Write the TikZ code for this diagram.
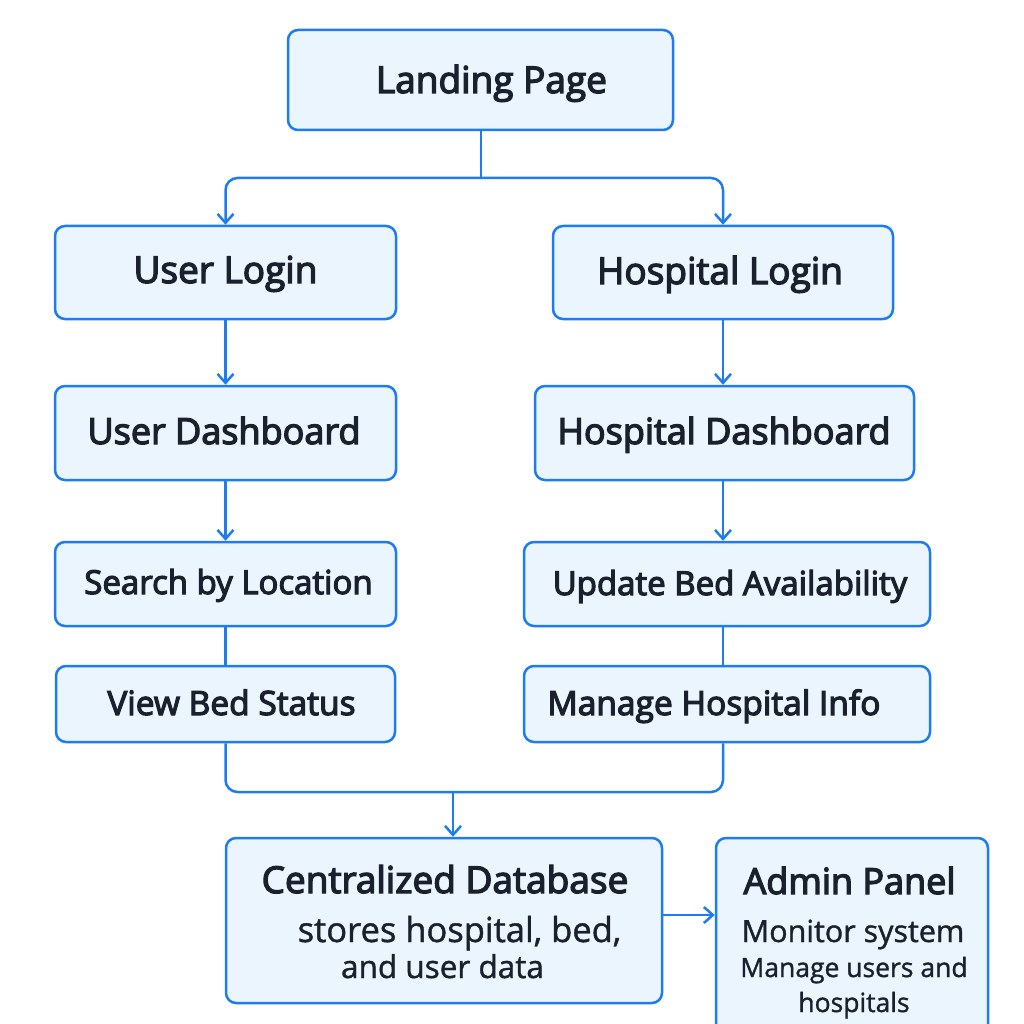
\documentclass[tikz,border=0pt]{standalone}
\usepackage{fontspec}
\setmainfont{Open Sans}
\newfontfamily\medfont[FakeBold=3.5]{Open Sans}
\newfontfamily\regfont[FakeBold=1.2]{Open Sans}
\usetikzlibrary{arrows.meta}
\definecolor{lineblue}{RGB}{28,124,240}
\definecolor{boxfill}{RGB}{234,245,254}
\definecolor{ink}{RGB}{26,32,46}
\tikzset{
  box/.style={draw=lineblue, line width=2.5pt, fill=boxfill, rounded corners=10pt, inner sep=0pt},
  conn/.style={draw=lineblue, line width=2.5pt},
  arr/.style={conn, -{Straight Barb[length=9pt,width=16pt,line width=2.5pt]}},
  lbl/.style={text=ink, inner sep=0pt, anchor=base},
}
\newcommand{\fs}[1]{\fontsize{#1}{#1}\selectfont}
\begin{document}
\begin{tikzpicture}[x=1pt,y=-1pt]
\useasboundingbox (0,0) rectangle (1024,1024);
\clip (0,0) rectangle (1024,1024);
\fill[white] (0,0) rectangle (1024,1024);

% boxes
\node[box, minimum width=385pt, minimum height=100pt] (landing) at (480.5,80) {};
\node[box, minimum width=341pt, minimum height=93pt] (ulogin) at (225.5,272.5) {};
\node[box, minimum width=340pt, minimum height=93pt] (hlogin) at (723,272.5) {};
\node[box, minimum width=341pt, minimum height=94pt] (udash) at (225.5,433) {};
\node[box, minimum width=379pt, minimum height=94pt] (hdash) at (724.5,433) {};
\node[box, minimum width=341pt, minimum height=84pt] (search) at (225.5,584) {};
\node[box, minimum width=406pt, minimum height=84pt] (update) at (727,584) {};
\node[box, minimum width=339pt, minimum height=76pt] (view) at (225.5,704) {};
\node[box, minimum width=406pt, minimum height=76pt] (manage) at (727,704) {};
\node[box, minimum width=436pt, minimum height=165pt] (db) at (444,920.5) {};
\node[box, minimum width=272pt, minimum height=220pt] (admin) at (852,948) {};

% labels
\node[lbl] (tlanding) at (491.5,93) {\medfont\fs{37}Landing Page};
\node[lbl] (tulogin) at (225.5,283) {\medfont\fs{37}User Login};
\node[lbl] (thlogin) at (720,284) {\medfont\fs{37}Hospital Login};
\node[lbl] (tudash) at (224,444) {\medfont\fs{36}User Dashboard};
\node[lbl] (thdash) at (724,444) {\medfont\fs{36}Hospital Dashboard};
\node[lbl] (tsearch) at (228.5,594) {\medfont\fs{33}Search by Location};
\node[lbl] (tupdate) at (730,595) {\medfont\fs{33}Update Bed Availability};
\node[lbl] (tview) at (231.5,715) {\medfont\fs{33.5}View Bed Status};
\node[lbl] (tmanage) at (714,715) {\medfont\fs{33.5}Manage Hospital Info};

\node[lbl] (dbt) at (445,893) {\medfont\fs{37}Centralized Database};
\node[lbl] (dbl1) at (459.5,942) {\regfont\fs{34.5}stores hospital, bed,};
\node[lbl] (dbl2) at (442.5,978) {\regfont\fs{31.5}and user data};

\node[lbl] (adt) at (849.5,894) {\medfont\fs{36}Admin Panel};
\node[lbl] (ad1) at (853,942) {\regfont\fs{30.5}Monitor system};
\node[lbl] (ad2) at (854,977) {\regfont\fs{26.5}Manage users and};
\node[lbl] (ad3) at (854,1012) {\regfont\fs{26.5}hospitals};

% connectors
\coordinate (j1) at (481,178);
\draw[conn] (landing.south -| j1) -- (j1);
\draw[arr, rounded corners=12pt] (j1) -| (ulogin.north);
\draw[arr, rounded corners=12pt] (j1) -| (hlogin.north);
\draw[arr] (ulogin) -- (udash);
\draw[arr] (hlogin.south) -- (hlogin.south |- hdash.north);
\draw[arr] (udash) -- (search);
\draw[arr] (hlogin.south |- hdash.south) -- (hlogin.south |- update.north);
\draw[conn] (search) -- (view);
\draw[conn] (hlogin.south |- update.south) -- (hlogin.south |- manage.north);
\coordinate (j2) at (453,792);
\draw[conn, rounded corners=12pt] (view.south) |- (j2) -| (hlogin.south |- manage.south);
\draw[arr] (j2) -- (j2 |- db.north);
\coordinate (jm) at (0,915);
\draw[arr] (db.east |- jm) -- (admin.west |- jm);
\end{tikzpicture}
\end{document}
